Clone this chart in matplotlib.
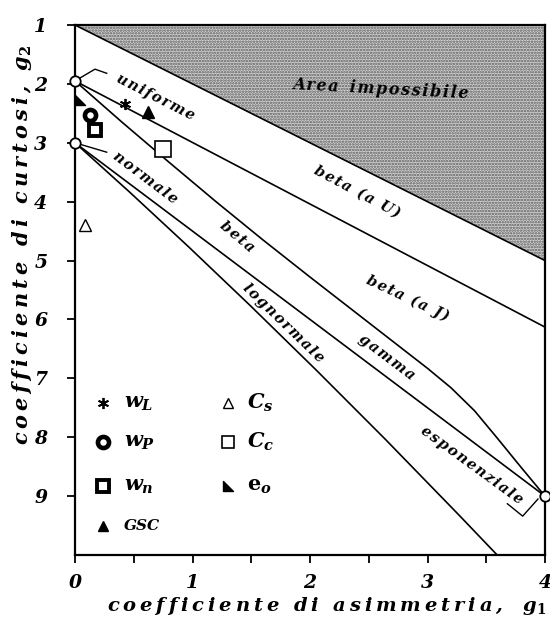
import matplotlib
matplotlib.use("Agg")
import matplotlib.pyplot as plt
from matplotlib.path import Path
import numpy as np

plt.rcParams['mathtext.fontset'] = 'custom'
plt.rcParams['mathtext.it'] = 'DejaVu Serif:italic:bold'
plt.rcParams['mathtext.rm'] = 'DejaVu Serif:bold'
plt.rcParams['mathtext.bf'] = 'DejaVu Serif:italic:bold'
plt.rcParams['hatch.linewidth'] = 1.2

# ---- data ----
imp_g1 = [0, 4]
imp_g2 = [1, 5]
betaU_g1 = [0, 4]
betaU_g2 = [1.95, 6.13]
betaJ_g1 = [0, 0.4, 0.8, 1.2, 1.6, 2.0, 2.4, 2.8, 3.0, 3.2, 3.4, 3.6, 3.8, 4.0]
betaJ_g2 = [1.95, 2.65, 3.33, 4.0, 4.65, 5.28, 5.9, 6.52, 6.83, 7.16, 7.55, 8.03, 8.52, 9.0]
gamma_g1 = [0, 4]
gamma_g2 = [3, 9]
logn_g1 = [0, 0.465, 0.961, 1.488, 2.048, 2.641, 3.267, 3.66]
logn_g2 = [3, 3.838, 4.756, 5.758, 6.850, 8.035, 9.32, 10.14]
ref_g1 = [0, 0, 4]           # uniforme, normale, esponenziale
ref_g2 = [1.95, 3, 9]
wL = (0.425, 2.34)
GSC = (0.62, 2.47)
eo = (0.045, 2.27)
wP = (0.13, 2.53)
wn = (0.17, 2.78)
Cc = (0.75, 3.10)
Cs = (0.085, 4.40)
xticks = [0, 1, 2, 3, 4]
yticks = [1, 2, 3, 4, 5, 6, 7, 8, 9]

def sp(s, ch='\u200a'):
    return ch.join(s)

serif = dict(family='DejaVu Serif', weight='bold', style='italic')
tri_lr = Path([(-1, 1), (-1, -1), (1, -1), (-1, 1)], [1, 2, 2, 79])

fig = plt.figure(figsize=(5.5, 6.26), dpi=100)
ax = fig.add_axes([75/550, 1-555/626, 470/550, 530/626])
ax.set_xlim(0, 4)
ax.set_ylim(10, 1)

lw = 1.2
ax.fill_between(imp_g1, [1, 1], imp_g2, facecolor='#d2d2d2', edgecolor='#5a5a5a',
                hatch='......', linewidth=0)
ax.plot(imp_g1, imp_g2, color='black', lw=lw)
ax.plot(betaU_g1, betaU_g2, color='black', lw=lw)
ax.plot(betaJ_g1, betaJ_g2, color='black', lw=lw)
ax.plot(gamma_g1, gamma_g2, color='black', lw=lw)
ax.plot(logn_g1, logn_g2, color='black', lw=lw)

# leaders
ax.plot([ref_g1[0], 0.17, 0.27], [ref_g2[0], 1.75, 1.82], color='black', lw=1.0)
ax.plot([ref_g1[1], 0.27], [ref_g2[1], 3.16], color='black', lw=1.0)
ax.plot([ref_g1[2]-0.06, 3.81, 3.68], [ref_g2[2]+0.05, 9.34, 9.13], color='black', lw=1.0)

ax.plot(ref_g1, ref_g2, 'o', ms=7.5, mfc='white', mec='black', mew=1.3, clip_on=False, zorder=5)

# points
ax.plot(*wL, marker=(6, 2, 0), ms=8, color='black', mew=1.3, ls='none')
ax.plot(*GSC, marker='^', ms=8, color='black', ls='none')
ax.plot(*eo, marker=tri_lr, ms=7, color='black', ls='none')
ax.plot(*wP, marker='o', ms=8, mfc='white', mec='black', mew=3.3, ls='none')
ax.plot(*wn, marker='s', ms=8, mfc='white', mec='black', mew=2.8, ls='none')
ax.plot(*Cc, marker='s', ms=11, mfc='white', mec='black', mew=1.2, ls='none')
ax.plot(*Cs, marker='^', ms=8, mfc='white', mec='black', mew=1.0, ls='none')

# legend (manual)
c1m, c1t, c2m, c2t = 0.24, 0.42, 1.30, 1.46
ly = [7.42, 8.08, 8.83, 9.51]
ax.plot(c1m, ly[0], marker=(6, 2, 0), ms=8, color='black', mew=1.3)
ax.plot(c1m, ly[1], marker='o', ms=8, mfc='white', mec='black', mew=3.3)
ax.plot(c1m, ly[2], marker='s', ms=8, mfc='white', mec='black', mew=2.8)
ax.plot(c1m, ly[3], marker='^', ms=7, color='black')
ax.plot(c2m, ly[0], marker='^', ms=7, mfc='white', mec='black', mew=1.0)
ax.plot(c2m, ly[1], marker='s', ms=9, mfc='white', mec='black', mew=1.2)
ax.plot(c2m, ly[2], marker=tri_lr, ms=6.5, color='black')
lt = dict(va='center', ha='left', fontsize=15)
ax.text(c1t, ly[0], r'$w_L$', **lt)
ax.text(c1t, ly[1], r'$w_P$', **lt)
ax.text(c1t, ly[2], r'$w_n$', **lt)
ax.text(c1t, ly[3], 'GSC', va='center', ha='left', fontsize=11, **serif)
ax.text(c2t, ly[0], r'$C_s$', **lt)
ax.text(c2t, ly[1], r'$C_c$', **lt)
ax.text(c2t, ly[2], r'$\mathrm{e}_o$', **lt)

# labels on curves
lab = dict(fontsize=10.5, ha='center', va='center', rotation_mode='anchor', **serif)
ax.text(2.6, 2.09, sp('Area') + '  ' + sp('impossibile'), rotation=-3,
        fontsize=11.5, ha='center', va='center', rotation_mode='anchor', **serif)
ax.text(0.68, 2.22, sp('uniforme'), rotation=-27, **lab)
ax.text(2.4, 3.83, sp('beta (a U)'), rotation=-28, **lab)
ax.text(2.83, 5.64, sp('beta (a J)'), rotation=-25, **lab)
ax.text(0.6, 3.6, sp('normale'), rotation=-37, **lab)
ax.text(1.38, 4.6, sp('beta'), rotation=-40, **lab)
ax.text(1.77, 6.07, sp('lognormale'), rotation=-44, **lab)
ax.text(2.65, 6.64, sp('gamma'), rotation=-37, **lab)
ax.text(3.38, 8.47, sp('esponenziale'), rotation=-36, **lab)

# axes styling
for s in ax.spines.values():
    s.set_linewidth(1.6)
ax.set_xticks(xticks)
ax.set_xticks([0.5, 1.5, 2.5, 3.5], minor=True)
ax.set_yticks(yticks)
ax.tick_params(axis='both', which='both', direction='out', length=6, width=1.3)
ax.tick_params(axis='y', pad=14)
ax.tick_params(axis='x', pad=8)
for t in ax.get_xticklabels() + ax.get_yticklabels():
    t.set_fontfamily('DejaVu Serif')
    t.set_fontweight('bold')
    t.set_fontstyle('italic')
    t.set_fontsize(13.5)

fig.text(327/550, 1-606/626, sp('coefficiente di asimmetria,', '\u2009') + '   ' + r'$g_1$',
         ha='center', va='center', fontsize=14, **serif)
fig.text(22/550, 1-245/626, sp('coefficiente di curtosi,', '\u2009') + '  ' + r'$g_2$',
         ha='center', va='center', rotation=90, fontsize=15, **serif)

fig.savefig('out.png', dpi=100)
